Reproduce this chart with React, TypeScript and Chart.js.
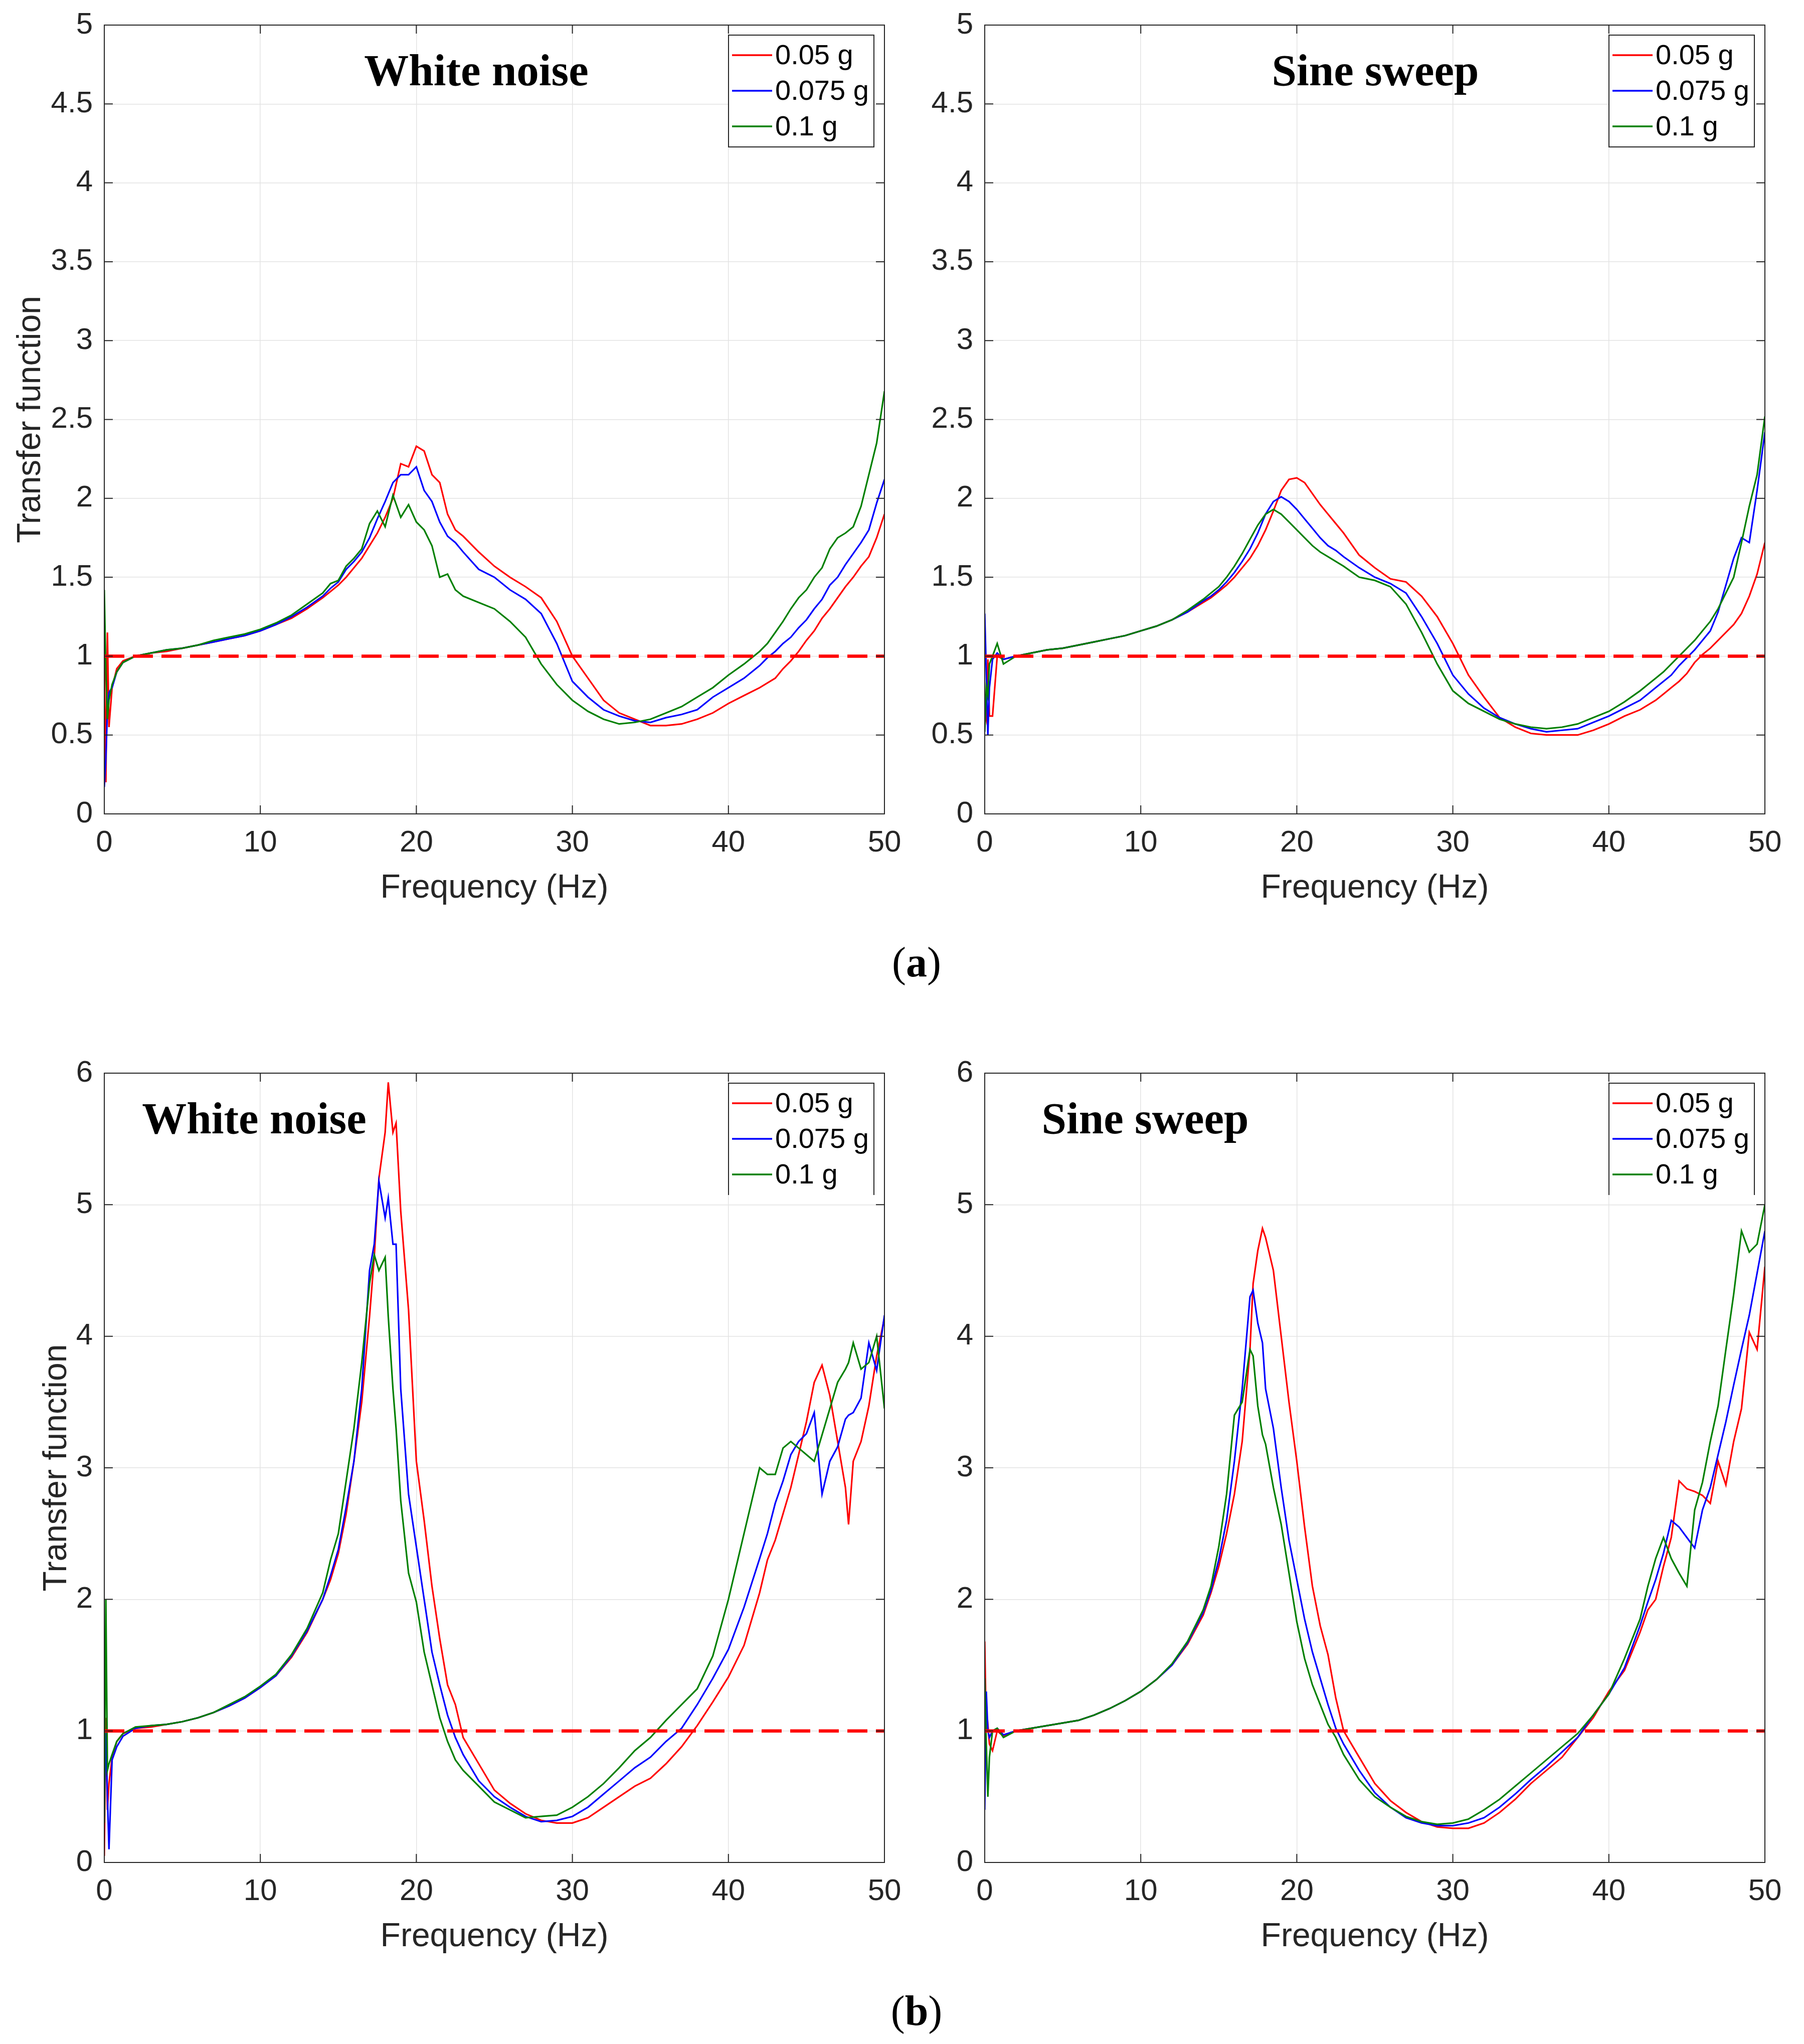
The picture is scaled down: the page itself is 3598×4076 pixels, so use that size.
import React, { useEffect, useRef } from "react";
import { Chart, registerables } from "chart.js";

Chart.register(...registerables);

// ---------------- DATA ----------------
const SERIES_LABELS = ["0.05 g", "0.075 g", "0.1 g"];
const SERIES_COLORS = ["#ff0000", "#0000ff", "#008000"];
const REF_FREQ = [0, 50];
const REF_LEVEL = [1, 1];

const FREQ_A = [0, 0.1, 0.2, 0.3, 0.5, 0.8, 1.2,
  2, 3, 4, 5, 6, 7, 8, 9, 10, 11, 12, 13, 14,
  14.5, 15, 15.5, 16, 16.5, 17, 17.5, 18, 18.5, 19, 19.5, 20, 20.5, 21, 21.5, 22, 22.5, 23,
  24, 25, 26, 27, 28, 29, 30, 31, 32, 33, 34, 35, 36, 37, 38, 39, 40, 41, 42,
  42.5, 43, 43.5, 44, 44.5, 45, 45.5, 46, 46.5, 47, 47.5, 48, 48.5, 49, 49.5, 50];

const A_WN_005 = [1.0, 0.2, 1.15, 0.55, 0.8, 0.92, 0.97,
  1.0, 1.02, 1.03, 1.05, 1.07, 1.09, 1.11, 1.13, 1.16, 1.2, 1.24, 1.3, 1.37,
  1.41, 1.45, 1.5, 1.56, 1.62, 1.7, 1.78, 1.88, 2.0, 2.22, 2.2, 2.33, 2.3, 2.15, 2.1, 1.9, 1.8, 1.76,
  1.66, 1.57, 1.5, 1.44, 1.37, 1.22, 1.0, 0.86, 0.72, 0.64, 0.6, 0.56, 0.56, 0.57, 0.6, 0.64, 0.7, 0.75, 0.8,
  0.83, 0.86, 0.92, 0.97, 1.03, 1.1, 1.16, 1.24, 1.3, 1.37, 1.44, 1.5, 1.57, 1.63, 1.75, 1.9];
const A_WN_0075 = [0.17, 0.35, 0.65, 0.77, 0.8, 0.9, 0.96,
  1.0, 1.02, 1.04, 1.05, 1.07, 1.09, 1.11, 1.13, 1.16, 1.2, 1.25, 1.31, 1.38,
  1.43, 1.47, 1.55, 1.6, 1.66, 1.75, 1.87, 1.98, 2.1, 2.15, 2.15, 2.2, 2.05, 1.98, 1.85, 1.76, 1.72, 1.66,
  1.55, 1.5, 1.42, 1.36, 1.27, 1.08, 0.84, 0.74, 0.66, 0.62, 0.59, 0.58, 0.61, 0.63, 0.66, 0.74, 0.8, 0.86, 0.94,
  0.99, 1.03, 1.08, 1.12, 1.18, 1.23, 1.3, 1.36, 1.45, 1.5, 1.58, 1.65, 1.72, 1.8, 1.97, 2.12];
const A_WN_01 = [1.42, 0.9, 0.6, 0.72, 0.82, 0.9, 0.96,
  1.0, 1.02, 1.04, 1.05, 1.07, 1.1, 1.12, 1.14, 1.17, 1.21, 1.26, 1.33, 1.4,
  1.46, 1.48, 1.57, 1.62, 1.68, 1.84, 1.92, 1.82, 2.02, 1.88, 1.96, 1.85, 1.8, 1.7, 1.5, 1.52, 1.42, 1.38,
  1.34, 1.3, 1.22, 1.12, 0.95, 0.82, 0.72, 0.65, 0.6, 0.57, 0.58, 0.6, 0.64, 0.68, 0.74, 0.8, 0.88, 0.95, 1.03,
  1.08, 1.15, 1.22, 1.3, 1.37, 1.42, 1.5, 1.56, 1.68, 1.75, 1.78, 1.82, 1.95, 2.15, 2.35, 2.68];

const A_SS_005 = [0.65, 0.6, 0.98, 0.62, 0.62, 1.0, 0.98,
  1.0, 1.02, 1.04, 1.05, 1.07, 1.09, 1.11, 1.13, 1.16, 1.19, 1.23, 1.28, 1.34,
  1.37, 1.41, 1.45, 1.5, 1.56, 1.62, 1.7, 1.8, 1.92, 2.05, 2.12, 2.13, 2.1, 2.03, 1.96, 1.9, 1.84, 1.78,
  1.64, 1.56, 1.49, 1.47, 1.38, 1.25, 1.08, 0.88, 0.74, 0.61, 0.55, 0.51, 0.5, 0.5, 0.5, 0.53, 0.57, 0.62, 0.66,
  0.69, 0.72, 0.76, 0.8, 0.84, 0.89, 0.96, 1.01, 1.05, 1.1, 1.15, 1.2, 1.27, 1.38, 1.52, 1.72];
const A_SS_0075 = [1.27, 0.9, 0.5, 0.8, 0.98, 1.02, 0.98,
  1.0, 1.02, 1.04, 1.05, 1.07, 1.09, 1.11, 1.13, 1.16, 1.19, 1.23, 1.28, 1.35,
  1.38, 1.42, 1.47, 1.53, 1.6, 1.68, 1.78, 1.9, 1.98, 2.01, 1.98, 1.93, 1.87, 1.81, 1.75, 1.7, 1.67, 1.63,
  1.56, 1.5, 1.46, 1.4, 1.25, 1.08, 0.88, 0.76, 0.67, 0.61, 0.57, 0.54, 0.52, 0.53, 0.54, 0.58, 0.62, 0.67, 0.72,
  0.76, 0.8, 0.84, 0.88, 0.94, 0.99, 1.04, 1.1, 1.16, 1.28, 1.45, 1.62, 1.75, 1.72, 2.05, 2.42];
const A_SS_01 = [0.52, 0.8, 0.75, 0.95, 1.0, 1.08, 0.95,
  1.0, 1.02, 1.04, 1.05, 1.07, 1.09, 1.11, 1.13, 1.16, 1.19, 1.23, 1.29, 1.36,
  1.4, 1.44, 1.5, 1.57, 1.65, 1.74, 1.83, 1.9, 1.93, 1.9, 1.85, 1.8, 1.75, 1.7, 1.66, 1.63, 1.6, 1.57,
  1.5, 1.48, 1.44, 1.33, 1.15, 0.95, 0.78, 0.7, 0.65, 0.6, 0.57, 0.55, 0.54, 0.55, 0.57, 0.61, 0.65, 0.71, 0.78,
  0.82, 0.86, 0.9, 0.95, 1.0, 1.05, 1.1, 1.16, 1.22, 1.3, 1.4, 1.5, 1.72, 1.95, 2.15, 2.52];

const FREQ_B_WN = [0, 0.1, 0.2, 0.3, 0.5, 0.8, 1.2,
  2, 3, 4, 5, 6, 7, 8, 9, 10, 11, 12, 13, 14,
  14.5, 15, 15.5, 16, 16.5, 17, 17.3, 17.6, 18, 18.2, 18.5, 18.7, 19, 19.5, 20, 20.5, 21, 21.5, 22, 22.5, 23,
  24, 25, 26, 27, 28, 29, 30, 31, 32, 33, 34, 35, 36, 37, 38, 39, 40, 41, 42,
  42.5, 43, 43.5, 44, 44.5, 45, 45.5, 46, 46.5, 47, 47.5, 47.7, 48, 48.5, 49, 49.5, 50];

const B_WN_005 = [0.05, 1.1, 0.4, 0.6, 0.8, 0.92, 0.98,
  1.02, 1.03, 1.05, 1.07, 1.1, 1.14, 1.19, 1.25, 1.33, 1.42, 1.56, 1.75, 2.0,
  2.15, 2.35, 2.65, 3.05, 3.5, 4.15, 4.6, 5.2, 5.55, 5.93, 5.55, 5.62, 4.95, 4.2, 3.05, 2.6, 2.1, 1.7, 1.35, 1.2, 0.95,
  0.75, 0.55, 0.45, 0.37, 0.32, 0.3, 0.3, 0.34, 0.42, 0.5, 0.58, 0.64, 0.75, 0.88, 1.04, 1.22, 1.41, 1.65, 2.05,
  2.3, 2.45, 2.65, 2.85, 3.1, 3.35, 3.65, 3.78, 3.55, 3.2, 2.85, 2.57, 3.05, 3.2, 3.47, 3.85, 4.14];
const B_WN_0075 = [0.35, 1.0, 0.5, 0.1, 0.78, 0.88, 0.96,
  1.02, 1.04, 1.05, 1.07, 1.1, 1.14, 1.19, 1.25, 1.33, 1.42, 1.57, 1.76, 2.0,
  2.18, 2.38, 2.7, 3.05, 3.6, 4.5, 4.7, 5.18, 4.9, 5.05, 4.7, 4.7, 3.6, 2.8, 2.4, 2.0, 1.6, 1.35, 1.12, 0.95, 0.82,
  0.62, 0.5, 0.42, 0.35, 0.31, 0.32, 0.35, 0.42, 0.52, 0.62, 0.72, 0.8, 0.92, 1.02, 1.2, 1.4, 1.62, 1.94, 2.31,
  2.5, 2.73, 2.9, 3.1, 3.2, 3.26, 3.42, 2.8, 3.05, 3.16, 3.37, 3.4, 3.42, 3.53, 3.95, 3.74, 4.16];
const B_WN_01 = [0.3, 2.0, 0.7, 0.75, 0.82, 0.92, 0.98,
  1.03, 1.04, 1.05, 1.07, 1.1, 1.14, 1.2, 1.26, 1.34, 1.43, 1.58, 1.78, 2.05,
  2.3, 2.5, 2.9, 3.3, 3.8, 4.4, 4.62, 4.5, 4.6, 4.15, 3.6, 3.3, 2.75, 2.2, 1.98, 1.6, 1.35, 1.1, 0.92, 0.78, 0.7,
  0.58, 0.46, 0.4, 0.34, 0.35, 0.36, 0.42, 0.5, 0.6, 0.72, 0.85, 0.95, 1.08, 1.2, 1.32, 1.57, 2.0, 2.5, 3.0,
  2.95, 2.95, 3.15, 3.2, 3.15, 3.1, 3.05, 3.25, 3.45, 3.65, 3.75, 3.8, 3.95, 3.75, 3.8, 4.0, 3.45];

const FREQ_B_SS = [0, 0.1, 0.2, 0.3, 0.5, 0.8, 1.2,
  2, 3, 4, 5, 6, 7, 8, 9, 10, 11, 12, 13, 14,
  14.5, 15, 15.5, 16, 16.5, 17, 17.2, 17.5, 17.8, 18, 18.5, 19, 19.5, 20, 20.5, 21, 21.5, 22, 22.5, 23,
  24, 25, 26, 27, 28, 29, 30, 31, 32, 33, 34, 35, 36, 37, 38, 39, 40, 41, 42,
  42.5, 43, 43.5, 44, 44.5, 45, 45.5, 46, 46.5, 47, 47.5, 48, 48.5, 49, 49.5, 50];

const B_SS_005 = [1.68, 1.0, 1.05, 0.9, 0.85, 1.0, 0.96,
  1.0, 1.02, 1.04, 1.06, 1.08, 1.12, 1.17, 1.23, 1.3, 1.39, 1.5, 1.66, 1.88,
  2.05, 2.25, 2.5, 2.8, 3.2, 3.9, 4.4, 4.65, 4.82, 4.75, 4.5, 4.0, 3.5, 3.05, 2.55, 2.1, 1.8, 1.58, 1.25, 1.0,
  0.8, 0.6, 0.47, 0.38, 0.31, 0.27, 0.26, 0.26, 0.3, 0.38, 0.48, 0.6, 0.7, 0.8, 0.95, 1.1, 1.3, 1.46, 1.75,
  1.92, 2.0, 2.25, 2.47, 2.9, 2.84, 2.82, 2.79, 2.73, 3.05, 2.87, 3.2, 3.45, 4.03, 3.9, 4.53];
const B_SS_0075 = [0.4, 1.3, 1.0, 0.95, 1.0, 1.02, 0.97,
  1.0, 1.02, 1.04, 1.06, 1.08, 1.12, 1.17, 1.23, 1.3, 1.39, 1.5, 1.67, 1.9,
  2.07, 2.3, 2.6, 3.05, 3.6, 4.3, 4.35, 4.1, 3.95, 3.6, 3.3, 2.85, 2.45, 2.15, 1.85, 1.6, 1.4, 1.2, 1.02, 0.9,
  0.7, 0.53, 0.42, 0.34, 0.3, 0.28, 0.28, 0.3, 0.34, 0.42, 0.52, 0.63, 0.73, 0.84, 0.95, 1.12, 1.28, 1.48, 1.8,
  1.98, 2.15, 2.35, 2.6, 2.55, 2.47, 2.39, 2.68, 2.85, 3.1, 3.35, 3.63, 3.9, 4.16, 4.48, 4.8];
const B_SS_01 = [1.4, 0.9, 0.5, 0.8, 1.0, 1.02, 0.95,
  1.0, 1.02, 1.04, 1.06, 1.08, 1.12, 1.17, 1.23, 1.3, 1.39, 1.51, 1.68, 1.92,
  2.1, 2.4, 2.8, 3.4, 3.5, 3.9, 3.85, 3.47, 3.25, 3.18, 2.85, 2.57, 2.2, 1.83, 1.55, 1.35, 1.2, 1.05, 0.95, 0.82,
  0.63, 0.5, 0.42, 0.35, 0.31, 0.29, 0.3, 0.33, 0.4, 0.48, 0.58, 0.68, 0.78, 0.88, 0.98, 1.12, 1.28, 1.55, 1.85,
  2.1, 2.31, 2.47, 2.31, 2.2, 2.1, 2.68, 2.89, 3.2, 3.47, 3.9, 4.32, 4.8, 4.64, 4.7, 5.0];

// ---------------- LAYOUT ----------------
const SANS = '"Liberation Sans", Arial, Helvetica, sans-serif';
const SERIF = '"Liberation Serif", "Times New Roman", serif';
const AXIS_COLOR = "#262626";
const ML = 200, MT = 80, MR = 80, MB = 230;

type PanelSpec = {
  L: number; T: number; R: number; B: number;
  yMax: number; yStep: number;
  freq: number[]; vals: number[][];
  title: string; titleX: number;
  yTitleX: number | null;
  legendBottom: boolean;
};

const PANELS: PanelSpec[] = [
  { L: 208, T: 50, R: 1764, B: 1623, yMax: 5, yStep: 0.5, freq: FREQ_A, vals: [A_WN_005, A_WN_0075, A_WN_01], title: "White noise", titleX: 950, yTitleX: 80, legendBottom: true },
  { L: 1964, T: 50, R: 3520, B: 1623, yMax: 5, yStep: 0.5, freq: FREQ_A, vals: [A_SS_005, A_SS_0075, A_SS_01], title: "Sine sweep", titleX: 2743, yTitleX: null, legendBottom: true },
  { L: 208, T: 2140, R: 1764, B: 3714, yMax: 6, yStep: 1, freq: FREQ_B_WN, vals: [B_WN_005, B_WN_0075, B_WN_01], title: "White noise", titleX: 507, yTitleX: 132, legendBottom: false },
  { L: 1964, T: 2140, R: 3520, B: 3714, yMax: 6, yStep: 1, freq: FREQ_B_SS, vals: [B_SS_005, B_SS_0075, B_SS_01], title: "Sine sweep", titleX: 2284, yTitleX: null, legendBottom: false },
];

function fmt(v: number) {
  return String(Math.round(v * 100) / 100);
}

function makeFramePlugin(spec: PanelSpec, offX: number) {
  return {
    id: "matlabFrame",
    afterDraw(chart: any) {
      const ctx = chart.ctx as CanvasRenderingContext2D;
      const { left, right, top, bottom } = chart.chartArea;
      const xs = chart.scales.x;
      const ys = chart.scales.y;
      ctx.save();
      ctx.strokeStyle = AXIS_COLOR;
      ctx.lineWidth = 2;
      ctx.strokeRect(left, top, right - left, bottom - top);
      const TL = 17;
      ctx.beginPath();
      xs.ticks.forEach((t: any) => {
        const px = xs.getPixelForValue(t.value);
        ctx.moveTo(px, bottom); ctx.lineTo(px, bottom - TL);
        ctx.moveTo(px, top); ctx.lineTo(px, top + TL);
      });
      ys.ticks.forEach((t: any) => {
        const py = ys.getPixelForValue(t.value);
        ctx.moveTo(left, py); ctx.lineTo(left + TL, py);
        ctx.moveTo(right, py); ctx.lineTo(right - TL, py);
      });
      ctx.stroke();

      ctx.fillStyle = AXIS_COLOR;
      ctx.font = `66px ${SANS}`;
      ctx.textAlign = "center";
      ctx.textBaseline = "alphabetic";
      ctx.fillText("Frequency (Hz)", (left + right) / 2, bottom + 167);

      if (spec.yTitleX !== null) {
        ctx.save();
        ctx.translate(spec.yTitleX - offX, (top + bottom) / 2);
        ctx.rotate(-Math.PI / 2);
        ctx.textAlign = "center";
        ctx.textBaseline = "alphabetic";
        ctx.fillText("Transfer function", 0, 0);
        ctx.restore();
      }

      ctx.fillStyle = "#000000";
      ctx.font = `bold 89px ${SERIF}`;
      ctx.textAlign = "center";
      ctx.textBaseline = "alphabetic";
      ctx.fillText(spec.title, spec.titleX - offX, top + 120);

      const bx = right - 311, by = top + 20, bw = 290, bh = 223;
      ctx.fillStyle = "#ffffff";
      ctx.fillRect(bx, by, bw, bh);
      ctx.strokeStyle = AXIS_COLOR;
      ctx.lineWidth = 2;
      ctx.beginPath();
      if (spec.legendBottom) {
        ctx.rect(bx, by, bw, bh);
      } else {
        ctx.moveTo(bx, by + bh); ctx.lineTo(bx, by); ctx.lineTo(bx + bw, by); ctx.lineTo(bx + bw, by + bh);
      }
      ctx.stroke();
      const rows = [top + 60, top + 131, top + 202];
      SERIES_LABELS.forEach((lab, i) => {
        ctx.strokeStyle = SERIES_COLORS[i];
        ctx.lineWidth = 3.5;
        ctx.beginPath();
        ctx.moveTo(bx + 7, rows[i]);
        ctx.lineTo(bx + 87, rows[i]);
        ctx.stroke();
        ctx.fillStyle = "#000000";
        ctx.font = `56px ${SANS}`;
        ctx.textAlign = "left";
        ctx.textBaseline = "middle";
        ctx.fillText(lab, bx + 93, rows[i] + 3);
      });
      ctx.restore();
    },
  };
}

function Panel({ spec }: { spec: PanelSpec }) {
  const ref = useRef<HTMLCanvasElement>(null);
  const W = spec.R - spec.L + ML + MR;
  const H = spec.B - spec.T + MT + MB;
  const offX = spec.L - ML;
  const offY = spec.T - MT;

  useEffect(() => {
    if (!ref.current) return;
    const datasets: any[] = spec.vals.map((v, i) => ({
      label: SERIES_LABELS[i],
      data: spec.freq.map((f, j) => ({ x: f, y: v[j] })),
      borderColor: SERIES_COLORS[i],
      borderWidth: 3.2,
      pointRadius: 0,
      fill: false,
      tension: 0,
      order: 3 - i,
    }));
    datasets.push({
      label: "ref",
      data: REF_FREQ.map((f, j) => ({ x: f, y: REF_LEVEL[j] })),
      borderColor: "#ff0000",
      borderWidth: 6.5,
      borderDash: [40, 17],
      pointRadius: 0,
      fill: false,
      order: 0,
    });
    const tickFont = { family: SANS, size: 60, lineHeight: 1.2 };
    const chart = new Chart(ref.current, {
      type: "line",
      data: { datasets },
      options: {
        animation: false,
        responsive: false,
        devicePixelRatio: 1,
        layout: { padding: { left: 0, top: MT, right: MR, bottom: 0 } },
        plugins: { legend: { display: false }, tooltip: { enabled: false }, title: { display: false } },
        scales: {
          x: {
            type: "linear", min: 0, max: 50,
            ticks: { stepSize: 10, padding: 22, color: AXIS_COLOR, font: tickFont, maxRotation: 0, autoSkip: false, callback: (v: any) => fmt(Number(v)) },
            grid: { color: "#e3e3e3", lineWidth: 1.5, drawTicks: false },
            border: { display: false },
            afterFit: (s: any) => { s.height = MB; },
          },
          y: {
            type: "linear", min: 0, max: spec.yMax,
            ticks: { stepSize: spec.yStep, padding: 23, color: AXIS_COLOR, font: tickFont, autoSkip: false, callback: (v: any) => fmt(Number(v)) },
            grid: { color: "#e3e3e3", lineWidth: 1.5, drawTicks: false },
            border: { display: false },
            afterFit: (s: any) => { s.width = ML; },
          },
        },
      } as any,
      plugins: [makeFramePlugin(spec, offX)],
    });
    return () => chart.destroy();
  }, []);

  return (
    <canvas
      ref={ref}
      width={W}
      height={H}
      style={{ position: "absolute", left: offX, top: offY, width: W, height: H }}
    />
  );
}

function Caption({ letter, baseline }: { letter: string; baseline: number }) {
  return (
    <div
      style={{
        position: "absolute", left: 1628, width: 400, top: baseline - 70, textAlign: "center",
        fontFamily: SERIF, fontSize: 84, lineHeight: "84px", color: "#000",
      }}
    >
      (<b>{letter}</b>)
    </div>
  );
}

export default function App() {
  return (
    <div style={{ position: "relative", width: 3598, height: 4076, background: "#fff", overflow: "hidden" }}>
      <style>{`body{margin:0;}`}</style>
      {PANELS.map((p, i) => (
        <Panel key={i} spec={p} />
      ))}
      <Caption letter="a" baseline={1947} />
      <Caption letter="b" baseline={4038} />
    </div>
  );
}
